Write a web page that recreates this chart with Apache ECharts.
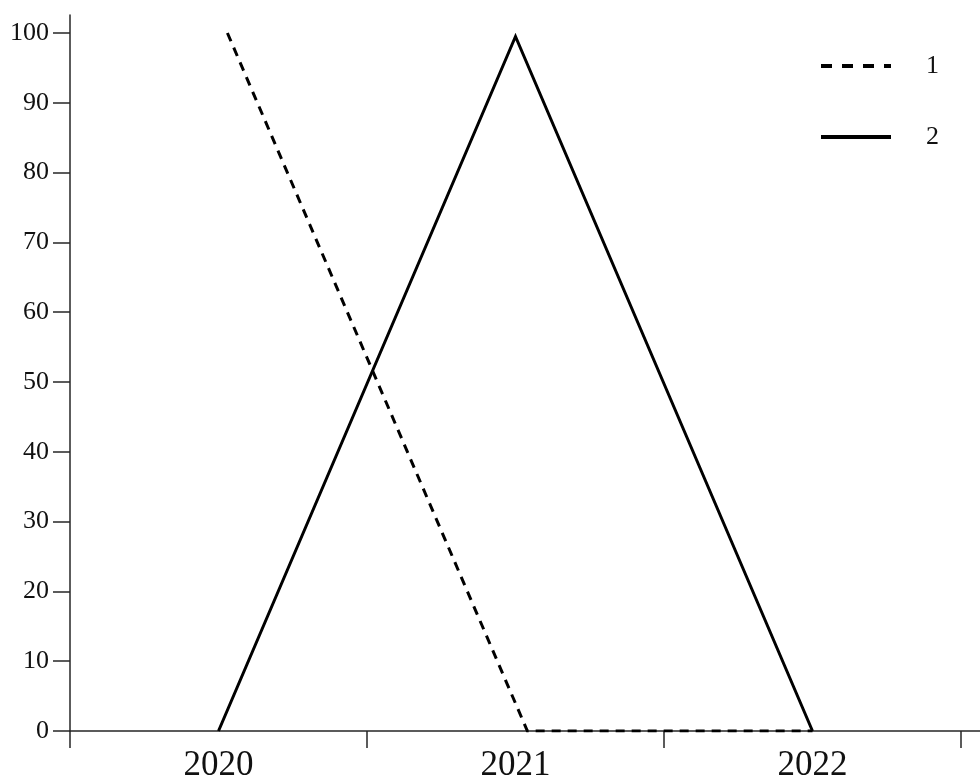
<!DOCTYPE html>
<html>
<head>
<meta charset="utf-8">
<script src="https://cdn.jsdelivr.net/npm/echarts@6/dist/echarts.min.js"></script>
<style>
html,body{margin:0;padding:0;background:#fff;}
#chart{width:980px;height:778px;}
</style>
</head>
<body>
<div id="chart"></div>
<script>
// ---- data ----
const categories = ['2020', '2021', '2022'];
const seriesNames = ['1', '2'];
// series "1" (dashed) positions in category units (slightly offset in the original)
const series1X = [0.03, 1.04, 2.0];
const series1Y = [100, 0, 0];
// series "2" (solid)
const series2X = [0, 1, 2];
const series2Y = [0, 99.5, 0];
const yTickValues = [0, 10, 20, 30, 40, 50, 60, 70, 80, 90, 100];
const xLabelValues = [0, 1, 2];
const xTickValues = [-0.5, 0.5, 1.5, 2.5];

const toPairs = (xs, ys) => xs.map((x, i) => [x, ys[i]]);

const axisColor = '#262626';
const font = 'Liberation Serif';

const chart = echarts.init(document.getElementById('chart'), null, {renderer: 'canvas'});
chart.setOption({
  backgroundColor: '#ffffff',
  animation: false,
  grid: {left: 70, right: 0, top: 15, bottom: 47, containLabel: false, outerBoundsMode: 'none'},
  legend: {
    orient: 'vertical',
    left: 814,
    top: 44,
    itemWidth: 70,
    itemHeight: 20,
    itemGap: 37,
    itemStyle: {opacity: 0},
    textStyle: {fontFamily: font, fontSize: 26, color: '#111', padding: [0, 0, 0, 30], lineHeight: 34},
    data: [
      {name: seriesNames[0], lineStyle: {type: [11, 10], width: 4, color: '#000'}},
      {name: seriesNames[1], lineStyle: {width: 4, color: '#000'}}
    ]
  },
  xAxis: {
    type: 'value',
    min: -0.5,
    max: 2.564,
    splitLine: {show: false},
    axisLine: {onZero: false, lineStyle: {color: axisColor, width: 1.5}},
    axisTick: {show: true, length: 17, inside: false, customValues: xTickValues, lineStyle: {color: axisColor, width: 1.5}},
    axisLabel: {
      customValues: xLabelValues,
      formatter: v => categories[Math.round(v)],
      fontFamily: font, fontSize: 35, color: '#111', margin: 17
    }
  },
  yAxis: {
    type: 'value',
    min: 0,
    max: 102.58,
    splitLine: {show: false},
    axisLine: {onZero: false, lineStyle: {color: axisColor, width: 1.5}},
    axisTick: {show: true, length: 17, customValues: yTickValues, lineStyle: {color: axisColor, width: 1.5}},
    axisLabel: {
      customValues: yTickValues,
      fontFamily: font, fontSize: 26, color: '#111', margin: 21
    }
  },
  series: [
    {
      name: seriesNames[0],
      type: 'line',
      data: toPairs(series1X, series1Y),
      symbol: 'none',
      lineStyle: {color: '#000', width: 3, type: [9, 7], cap: 'butt', join: 'miter'},
      itemStyle: {color: '#000'}
    },
    {
      name: seriesNames[1],
      type: 'line',
      data: toPairs(series2X, series2Y),
      symbol: 'none',
      lineStyle: {color: '#000', width: 3, type: 'solid', cap: 'butt', join: 'miter'},
      itemStyle: {color: '#000'}
    }
  ]
});
</script>
</body>
</html>
